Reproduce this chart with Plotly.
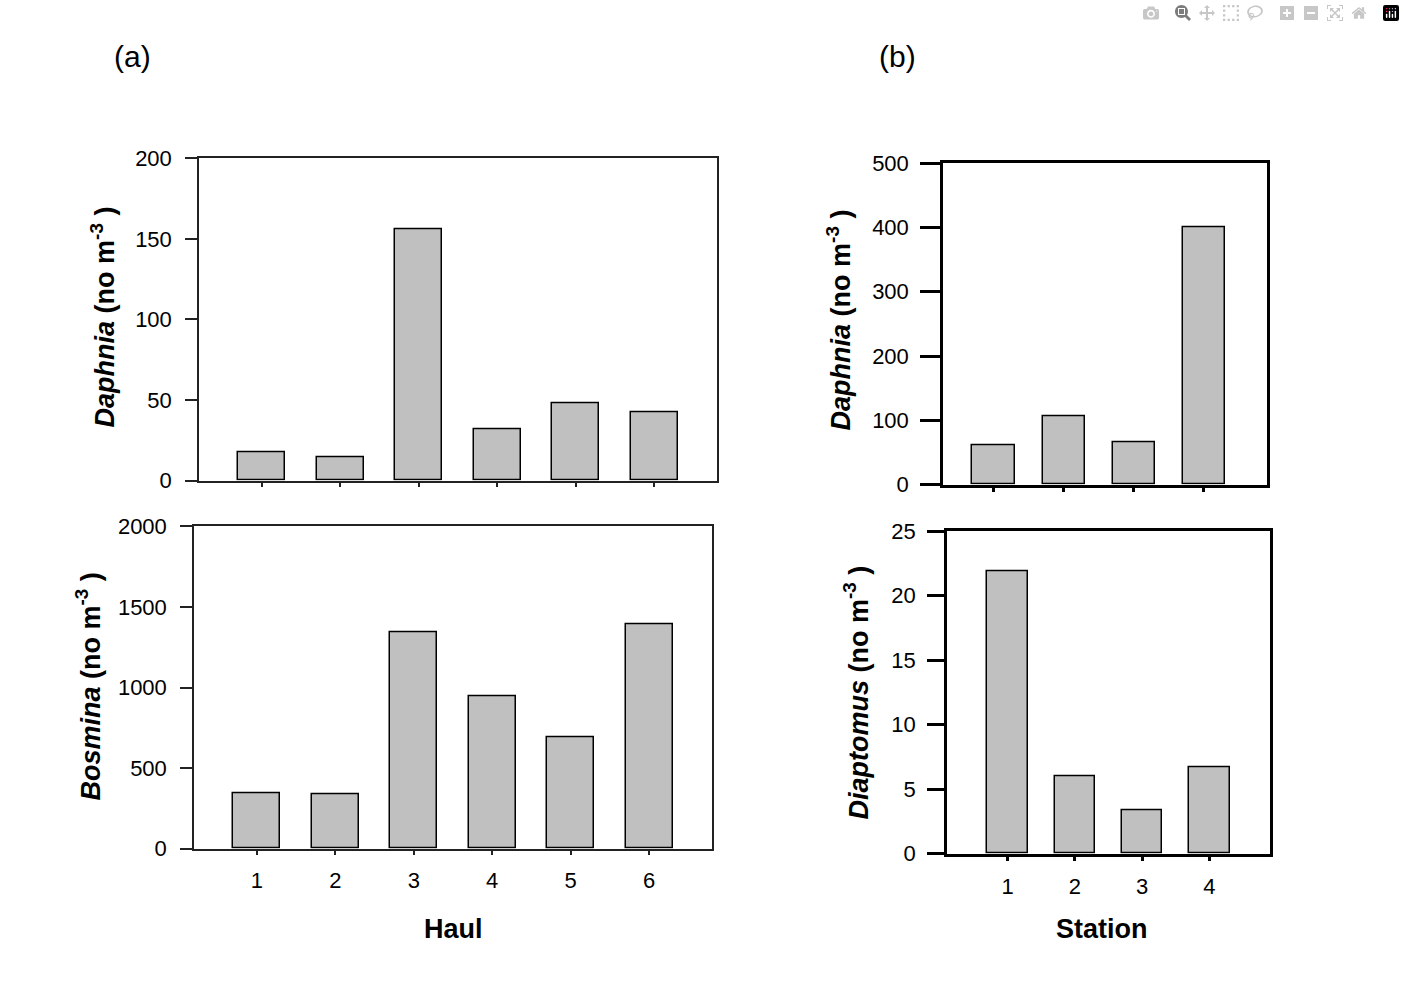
import plotly.graph_objects as go

# values
haul = [1, 2, 3, 4, 5, 6]
daphnia_haul = [17.3, 14.6, 155.8, 32.1, 47.9, 42.6]
bosmina_haul = [344, 337, 1344, 944, 689, 1389]

station = [1, 2, 3, 4]
daphnia_station = [61, 107, 66, 400]
diaptomus_station = [21.9, 6.0, 3.35, 6.7]

W, H = 1405, 999
FONT = "Liberation Sans, Arial, sans-serif"
BAR_FILL = "#c0c0c0"

# the page came out squeezed a little vertically, so pixel targets are corrected
Y_OFF, Y_SCALE = 10, 0.98


def fy(y):
    # target pixel row -> paper fraction
    return 1 - ((y - Y_OFF) / Y_SCALE) / H


def px_x(a, b):
    return [a / W, b / W]


def px_y(top, bottom):
    return [fy(bottom), fy(top)]


fig = go.Figure()

panels = [
    (haul, daphnia_haul, "x", "y"),
    (haul, bosmina_haul, "x2", "y2"),
    (station, daphnia_station, "x3", "y3"),
    (station, diaptomus_station, "x4", "y4"),
]
for xs, ys, xa, ya in panels:
    fig.add_trace(go.Bar(
        x=xs, y=ys, xaxis=xa, yaxis=ya, width=0.6,
        marker=dict(color=BAR_FILL, line=dict(color="black", width=1.5)),
        showlegend=False, hoverinfo="x+y",
    ))


def xax(domain, anchor, rng, vals, labels, lw, lc):
    return dict(
        domain=domain, anchor=anchor, range=rng,
        tickmode="array", tickvals=vals, showticklabels=labels,
        ticks="outside", ticklen=5, tickwidth=lw, tickcolor=lc,
        showline=True, linewidth=lw, linecolor=lc, mirror=True,
        showgrid=False, zeroline=False, ticklabelstandoff=6,
        tickfont=dict(family=FONT, size=22, color="black"),
    )


def yax(domain, anchor, rng, dtick, ticklen, lw, lc, standoff):
    return dict(
        domain=domain, anchor=anchor, range=rng, dtick=dtick,
        ticks="outside", ticklen=ticklen, tickwidth=lw, tickcolor=lc,
        showline=True, linewidth=lw, linecolor=lc, mirror=True,
        showgrid=False, zeroline=False, ticklabelstandoff=standoff,
        tickfont=dict(family=FONT, size=22, color="black"),
    )


fig.update_layout(
    width=W, height=H,
    margin=dict(l=0, r=0, t=0, b=0),
    paper_bgcolor="white", plot_bgcolor="white",
    bargap=0,
    xaxis=xax(px_x(199, 717), "y", [0.2, 6.8], haul, False, 1.5, "#222"),
    yaxis=yax(px_y(157, 481), "x", [0, 200], 50, 12, 1.5, "#222", 9),
    xaxis2=xax(px_x(194, 712), "y2", [0.2, 6.8], haul, True, 1.5, "#222"),
    yaxis2=yax(px_y(527, 851), "x2", [0, 2000], 500, 12, 1.5, "#222", 9),
    xaxis3=xax(px_x(943, 1267), "y3", [0.28, 4.9], station, False, 2.5, "black"),
    yaxis3=yax(px_y(162, 485), "x3", [0, 500], 100, 20, 2.5, "black", 7),
    xaxis4=xax(px_x(947, 1270), "y4", [0.1, 4.9], station, True, 2.5, "black"),
    yaxis4=yax(px_y(532, 856), "x4", [0, 25], 5, 17, 2.5, "black", 7),
)

# axis titles and panel letters
texts = [
    (103, 316, "<b><i>Daphnia</i> (no m<sup>-3</sup> )</b>", -90, 27),
    (88, 688, "<b><i>Bosmina</i> (no m<sup>-3</sup> )</b>", -90, 27),
    (839, 320, "<b><i>Daphnia</i> (no m<sup>-3</sup> )</b>", -90, 27),
    (857, 694, "<b><i>Diaptomus</i> (no m<sup>-3</sup> )</b>", -90, 27),
    (453, 932, "<b>Haul</b>", 0, 27),
    (1102, 932, "<b>Station</b>", 0, 27),
    (132, 55, "(a)", 0, 30),
    (897, 55, "(b)", 0, 30),
]
for x, y, t, ang, size in texts:
    fig.add_annotation(
        x=x / W, y=fy(y), xref="paper", yref="paper",
        text=t, textangle=ang, showarrow=False,
        xanchor="center", yanchor="middle",
        font=dict(family=FONT, size=size, color="black"),
    )

fig.write_html("out.html", post_script="document.body.style.margin='0';")
